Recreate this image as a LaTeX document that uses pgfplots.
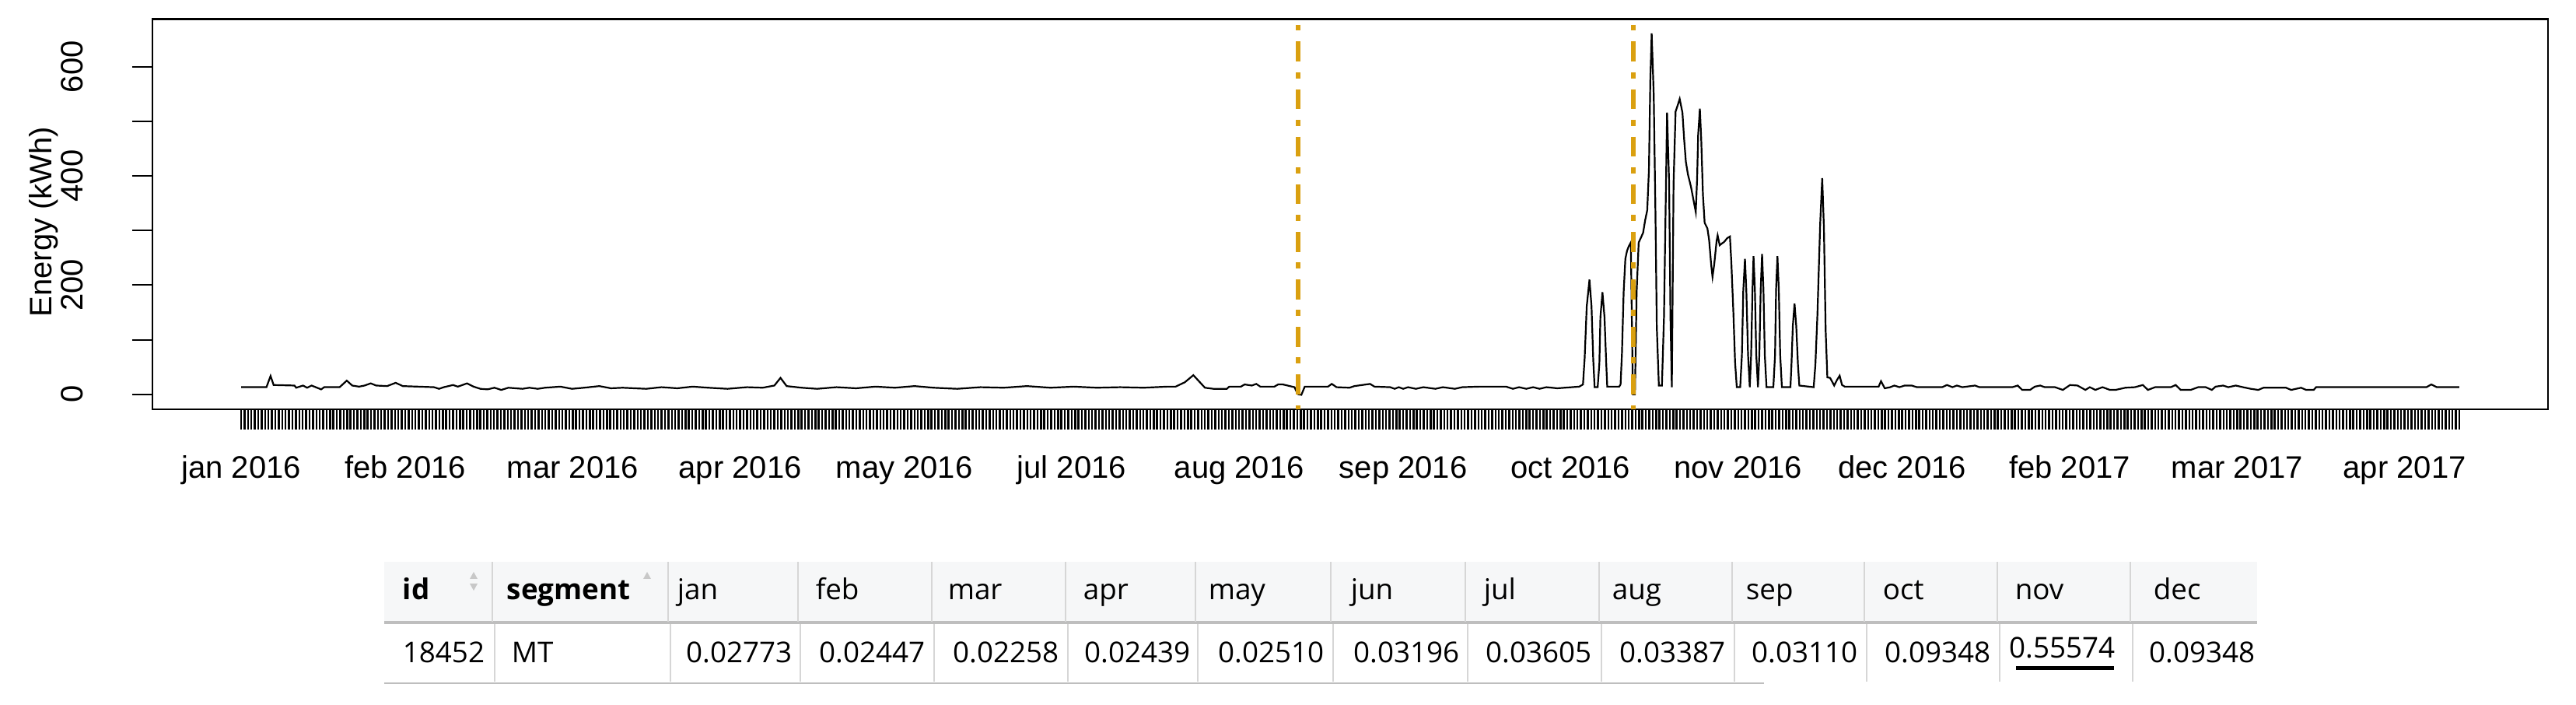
\documentclass[border=0pt]{standalone}
\usepackage{pgfplots}
\usepackage{pgfplotstable}
\pgfplotsset{compat=1.18}
\usepackage{fontspec}
\setmainfont{Liberation Sans}
\newfontfamily\tabfont{Open Sans}
\definecolor{dashgold}{RGB}{218,160,16}
\definecolor{hdrbg}{RGB}{246,247,248}
\definecolor{sepgray}{RGB}{214,214,214}
\definecolor{rulegray}{RGB}{190,190,190}
\definecolor{arrowgray}{RGB}{200,200,200}

% energy series, x = observation index (ticks at 1..650)
\pgfplotstableread{
idx energy
1 13
8.4 13
9.6 33.5
10.5 17
16.6 16
17.1 12
19.1 16
20.3 12
21.6 16
23.2 12
24.4 9
25.3 13
29.8 13
31.9 25
33.5 16
35.5 14
37.1 16
38.9 20
40.5 16
43.7 15
46.2 21
48.3 15
57.4 13
58.9 10
60.3 13
63.0 17
64.4 14
67.1 20
69.0 14
71.0 10
73.1 9
75.1 12
77.1 8
79.2 12
83.3 10
85.3 12
87.8 10
89.9 12
94.4 14
97.8 10
101.3 12
105.8 15
109.2 11
112.6 12
119.5 10
124.0 13
128.6 11
133.1 14
137.7 12
143.3 10
149.0 13
153.6 12
157.0 16
158.8 30
160.6 15
165.0 12
169.5 10
175.2 13
180.9 11
186.6 14
192.3 12
198.0 15
203.6 12
210.5 10
217.3 13
224.1 12
230.9 15
237.8 12
244.6 14
251.4 12
258.2 13
265.1 12
271.9 14
274.4 14
277.1 22
279.6 35
282.4 16
283.0 12
285.5 10
289.4 10
290.1 14
293.5 14
294.6 18
296.7 16
298.0 19
299.2 14
303.3 14
304.4 18
305.8 18
309.2 13
309.7 6
310.3 0
311.2 -1
312.2 14
319.0 14
320.1 19
321.5 13
325.3 12
326.7 15
331.3 19
332.6 14
337.2 13
338.5 10
339.7 13
341.0 10
342.4 13
344.7 10
346.9 13
350.4 10
352.6 13
356.1 10
358.3 13
363.3 14
371.1 14
373.1 10
374.9 13
377.0 10
379.0 13
380.9 10
382.9 13
386.1 11
392.5 14
393.6 18
394.1 67
394.7 161
395.5 210
396.1 161
396.6 64
397.0 13
397.9 13
398.4 57
398.7 141
399.3 187
399.9 141
400.4 57
400.7 14
404.2 14
404.6 18
405.0 74
405.5 187
406.0 248
406.5 263
407.0 271
407.6 278
408.2 0
408.8 0
409.3 187
409.9 278
410.5 286
411.2 296
411.8 319
412.4 337
412.9 411
413.3 575
413.7 661
414.3 549
414.8 334
415.2 123
415.8 16
416.7 16
417.3 141
417.9 388
418.2 516
418.8 388
419.2 141
419.6 13
420.1 385
420.7 518
421.4 531
421.9 541
422.7 516
423.2 467
423.7 426
424.3 403
425.2 380
426.2 347
426.6 334
427.0 396
427.3 475
427.8 523
428.2 467
428.7 365
429.2 314
430.0 304
430.5 283
431.1 238
431.5 215
432.0 238
432.7 281
433.0 291
433.6 273
434.2 276
434.9 279
435.8 286
436.6 289
437.0 243
437.6 151
438.1 59
438.6 13
439.6 13
440.1 72
440.5 189
441.0 248
441.4 189
441.9 72
442.4 13
442.8 72
443.2 192
443.5 253
443.9 192
444.3 72
444.8 13
445.2 72
445.6 192
446.0 257
446.4 192
446.8 72
447.3 13
449.3 13
449.8 72
450.1 192
450.5 253
450.9 192
451.3 72
451.8 13
454.3 13
454.6 54
455.0 125
455.5 166
456.0 125
456.5 54
456.9 16
461.1 13
461.6 54
462.2 146
463.0 312
463.6 396
464.1 304
464.6 118
465.1 31
465.9 30
466.6 22
467.1 16
467.9 26
468.7 34
469.4 17
470.2 14
480.1 14
480.8 24
481.9 11
483.5 13
484.7 16
486.2 13
487.7 16
489.8 16
491.3 13
498.7 13
500.1 17
501.7 13
503.0 16
504.6 13
508.3 16
509.6 13
519.2 13
520.8 16
522.1 8
524.4 8
525.8 14
527.4 16
528.7 13
531.7 13
534.0 8
536.1 17
538.3 16
540.6 8
541.9 13
543.5 8
545.6 13
547.8 8
549.4 8
552.3 12
555.1 13
557.4 17
558.9 8
561.0 13
565.6 13
567.0 17
568.5 8
571.4 8
573.6 13
575.8 13
577.6 8
578.7 14
580.9 16
582.4 13
584.6 16
586.7 13
589.0 10
591.2 8
592.7 12
599.3 12
600.8 8
603.7 12
605.2 8
607.4 8
608.1 13
640.4 13
641.8 18
643.4 13
650 13
}\energy

\begin{document}
\begin{tikzpicture}
\path[use as bounding box] (0pt,0pt) rectangle (828pt,-226.5pt);

\begin{axis}[
    at={(49pt,-131.5pt)}, anchor=south west,
    scale only axis, width=770pt, height=125.425pt,
    xmin=-24.96, xmax=675.96,
    ymin=-27.5, ymax=687.5,
    axis line style={line width=0.7pt},
    tick align=outside,
    major tick length=6.5pt,
    tick style={black, line width=0.5pt},
    xtick pos=bottom, ytick pos=left,
    xtick={1,2,...,650}, xticklabels={},
    x tick style={line width=0.62pt},
    extra x ticks={1,49,98,147,195,244,293,341,390,439,487,536,585,634},
    extra x tick labels={jan 2016,feb 2016,mar 2016,apr 2016,may 2016,jul 2016,aug 2016,sep 2016,oct 2016,nov 2016,dec 2016,feb 2017,mar 2017,apr 2017},
    extra x tick style={major tick length=0pt,
        xticklabel style={anchor=base, yshift=-22.25pt}},
    ytick={0,100,...,600}, yticklabels={0,,200,,400,,600},
    yticklabel style={xshift=-15.75pt, rotate=90, anchor=base, inner sep=0pt},
    tick label style={font=\fontsize{10}{12}\selectfont},
    ylabel={Energy (kWh)},
    ylabel style={at={(axis description cs:-0.0455,0.48)}, anchor=center, font=\fontsize{10}{12}\selectfont},
]
\addplot[black, line width=0.55pt] table[x=idx, y=energy]{\energy};
\addplot[dashgold, line width=1.5pt, dash pattern=on 1.925pt off 3.5pt on 6.425pt off 3.425pt, dash phase=13.425pt]
    coordinates {(310.3,687.5) (310.3,-27.5)};
\addplot[dashgold, line width=1.5pt, dash pattern=on 1.925pt off 3.5pt on 6.425pt off 3.425pt, dash phase=13.425pt]
    coordinates {(408.4,687.5) (408.4,-27.5)};
\end{axis}

% table under the chart, coordinates in image pixels
\begin{scope}[x=0.25pt, y=-0.25pt, every node/.style={inner sep=0pt, font=\tabfont\fontsize{9.2}{11}\selectfont}]
\fill[hdrbg] (494,722) rectangle (2902,800);
\draw[rulegray, line width=0.8pt] (494,800) -- (2902,800);
\draw[rulegray, line width=0.7pt] (494,878) -- (2268,878);
\foreach \c in {633,859,1026,1198,1370,1537,1711,1884,2056,2227,2397,2568,2739} {
    \draw[sepgray, line width=0.45pt] (\c,722) -- (\c,799);
    \draw[sepgray, line width=0.45pt] (\c+3,802) -- (\c+3,876);
}
% sort arrows
\fill[arrowgray] (604,744) -- (614,744) -- (609,735) -- cycle;
\fill[arrowgray] (604,750) -- (614,750) -- (609,759) -- cycle;
\fill[arrowgray] (827,744) -- (837,744) -- (832,735) -- cycle;
% header
\node[anchor=base west, font=\tabfont\bfseries\fontsize{9.2}{11}\selectfont] at (517,771) {id};
\node[anchor=base west, font=\tabfont\bfseries\fontsize{9.2}{11}\selectfont] at (651,771) {segment};
\node[anchor=base west] at (870,771) {jan};
\node[anchor=base west] at (1048,771) {feb};
\node[anchor=base west] at (1218,771) {mar};
\node[anchor=base west] at (1392,771) {apr};
\node[anchor=base west] at (1553,771) {may};
\node[anchor=base west] at (1736,771) {jun};
\node[anchor=base west] at (1907,771) {jul};
\node[anchor=base west] at (2072,771) {aug};
\node[anchor=base west] at (2244,771) {sep};
\node[anchor=base west] at (2420,771) {oct};
\node[anchor=base west] at (2590,771) {nov};
\node[anchor=base west] at (2768,771) {dec};
% values
\node[anchor=base west] at (517,852) {18452};
\node[anchor=base west] at (657,852) {MT};
\node[anchor=base east] at (1019,852) {0.02773};
\node[anchor=base east] at (1190,852) {0.02447};
\node[anchor=base east] at (1362,852) {0.02258};
\node[anchor=base east] at (1531,852) {0.02439};
\node[anchor=base east] at (1703,852) {0.02510};
\node[anchor=base east] at (1877,852) {0.03196};
\node[anchor=base east] at (2047,852) {0.03605};
\node[anchor=base east] at (2219,852) {0.03387};
\node[anchor=base east] at (2389,852) {0.03110};
\node[anchor=base east] at (2560,852) {0.09348};
\node[anchor=base east] at (2720,846) {0.55574};
\node[anchor=base east] at (2900,852) {0.09348};
\fill[black] (2592,856) rectangle (2718,861);
\end{scope}
\end{tikzpicture}
\end{document}
